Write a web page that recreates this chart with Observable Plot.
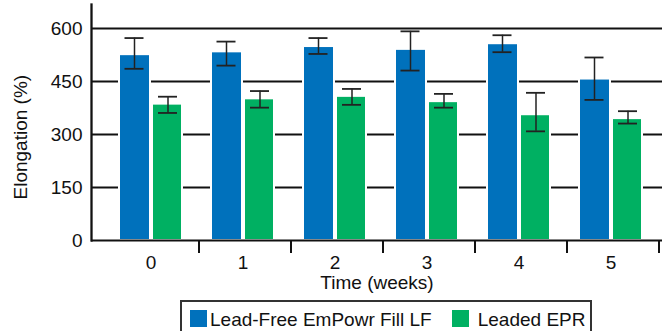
<!DOCTYPE html>
<html>
<head>
<meta charset="utf-8">
<script src="https://cdn.jsdelivr.net/npm/d3@7"></script>
<script src="https://cdn.jsdelivr.net/npm/@observablehq/plot@0.6"></script>
<style>
  html, body { margin: 0; padding: 0; background: #fff; }
  body { width: 662px; height: 331px; overflow: hidden; font-family: "Liberation Sans", Arial, Helvetica, sans-serif; }
  #chart svg { display: block; }
  .legend {
    box-sizing: border-box;
    margin-left: 180px; margin-top: 1px;
    width: 412px; height: 40px;
    border: 2px solid #333;
    display: flex; align-items: flex-start;
    padding: 8px 0 0 8px;
    font-size: 19px; color: #111; line-height: 20px;
  }
  .sw { width: 17px; height: 17px; flex: none; }
  .item { display: flex; align-items: flex-start; }
  .lbl { margin-left: 3px; white-space: nowrap; }
</style>
</head>
<body>
<div id="chart"></div>
<script>
const weeks = [0, 1, 2, 3, 4, 5];
const seriesNames = ["Lead-Free EmPowr Fill LF", "Leaded EPR"];
const seriesColors = ["#0071bc", "#00b062"];
const leadFreeMean = [526, 534, 549, 541, 557, 457];
const leadFreeLow  = [486, 495, 528, 481, 533, 398];
const leadFreeHigh = [573, 563, 573, 592, 581, 518];
const leadedMean = [386, 401, 408, 393, 356, 345];
const leadedLow  = [361, 376, 384, 376, 309, 331];
const leadedHigh = [407, 423, 429, 415, 418, 366];
const yTicks = [0, 150, 300, 450, 600];
const yLabel = "Elongation (%)";
const xLabel = "Time (weeks)";

const leadFree = weeks.map((w, i) => ({week: w, mean: leadFreeMean[i], low: leadFreeLow[i], high: leadFreeHigh[i]}));
const leaded = weeks.map((w, i) => ({week: w, mean: leadedMean[i], low: leadedLow[i], high: leadedHigh[i]}));

const errColor = "#222";
const chart = Plot.plot({
  width: 662,
  height: 299,
  marginTop: 4,
  marginBottom: 59,
  marginLeft: 91,
  marginRight: 0,
  style: {fontFamily: "'Liberation Sans', Arial, Helvetica, sans-serif", fontSize: "19px", color: "#111", background: "#fff"},
  x: {domain: weeks, paddingInner: 0.31, paddingOuter: 0.183, insetLeft: 9},
  y: {domain: [0, 668]},
  marks: [
    Plot.ruleY(yTicks.slice(1), {stroke: "#111", strokeWidth: 2}),
    Plot.barY(leadFree, {x: "week", y: "mean", fill: seriesColors[0], stroke: "#fff", strokeWidth: 2, insetRight: 32}),
    Plot.barY(leaded, {x: "week", y: "mean", fill: seriesColors[1], stroke: "#fff", strokeWidth: 2, insetLeft: 33}),
    Plot.ruleX(leadFree, {x: "week", y1: "low", y2: "high", dx: -16.5, stroke: errColor, strokeWidth: 1.5}),
    Plot.ruleX(leaded, {x: "week", y1: "low", y2: "high", dx: 17, stroke: errColor, strokeWidth: 1.5}),
    Plot.tickY(leadFree, {x: "week", y: "high", insetLeft: 5.5, insetRight: 38.5, stroke: errColor, strokeWidth: 1.8}),
    Plot.tickY(leadFree, {x: "week", y: "low", insetLeft: 5.5, insetRight: 38.5, stroke: errColor, strokeWidth: 1.8}),
    Plot.tickY(leaded, {x: "week", y: "high", insetLeft: 39, insetRight: 5, stroke: errColor, strokeWidth: 1.8}),
    Plot.tickY(leaded, {x: "week", y: "low", insetLeft: 39, insetRight: 5, stroke: errColor, strokeWidth: 1.8}),
    Plot.ruleY([0], {stroke: "#111", strokeWidth: 2.2}),
    Plot.frame({anchor: "left", stroke: "#111", strokeWidth: 2.3}),
    Plot.axisY(yTicks, {tickSize: 0, tickPadding: 9, label: null}),
    Plot.axisX({tickSize: 13, tickFormat: () => "", dx: 48, strokeWidth: 2, label: null}),
    Plot.axisX({tickSize: 0, tickPadding: 15, label: null}),
    Plot.text([yLabel], {frameAnchor: "left", textAnchor: "middle", lineAnchor: "middle", rotate: -90, dx: -71, dy: 14.7, fill: "#111"}),
    Plot.text([xLabel], {frameAnchor: "bottom", textAnchor: "middle", lineAnchor: "top", dy: 35, fill: "#111"})
  ]
});
document.getElementById("chart").appendChild(chart);

const legend = document.createElement("div");
legend.className = "legend";
seriesNames.forEach((name, i) => {
  const item = document.createElement("div");
  item.className = "item";
  if (i > 0) item.style.marginLeft = "20px";
  const sw = document.createElement("div");
  sw.className = "sw";
  sw.style.background = seriesColors[i];
  const lbl = document.createElement("span");
  lbl.className = "lbl";
  if (i > 0) lbl.style.marginLeft = "9px";
  lbl.textContent = name;
  item.appendChild(sw);
  item.appendChild(lbl);
  legend.appendChild(item);
});
document.body.appendChild(legend);
</script>
</body>
</html>
